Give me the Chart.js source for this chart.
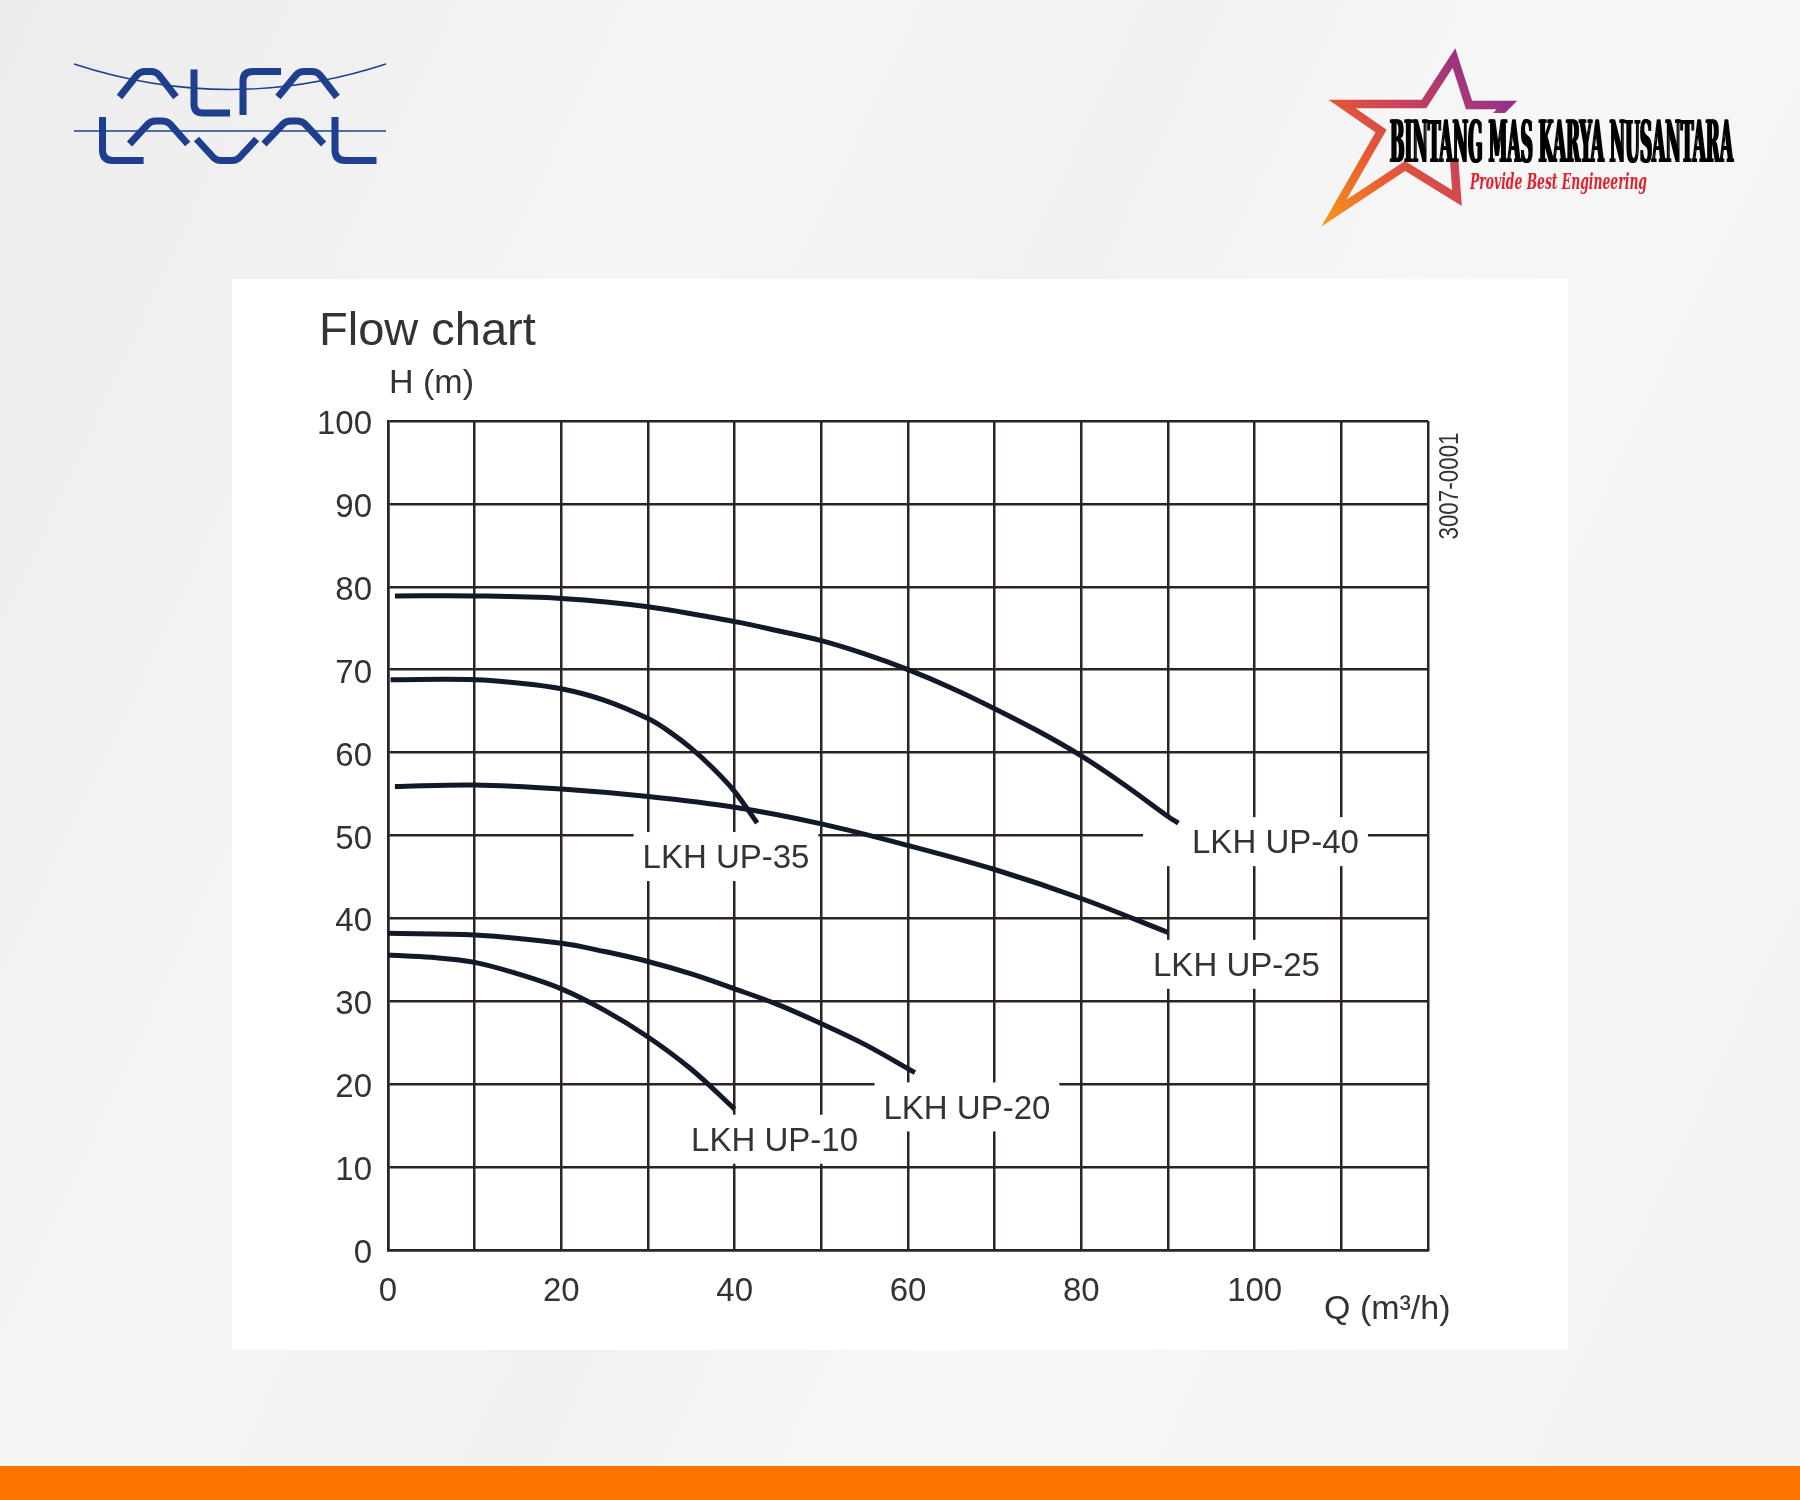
<!DOCTYPE html>
<html>
<head>
<meta charset="utf-8">
<title>Flow chart</title>
<script src="https://cdn.jsdelivr.net/npm/chart.js@4.4.1/dist/chart.umd.min.js"></script>
<style>
  html, body { margin: 0; padding: 0; }
  body {
    width: 1800px; height: 1500px; position: relative; overflow: hidden;
    background: linear-gradient(115deg, #ececec 0%, #f5f5f5 30%, #f1f1f1 48%, #f7f7f7 62%, #f2f2f2 100%);
  }
  #logos { position: absolute; left: 0; top: 0; }
  .brand {
    position: absolute; white-space: nowrap; line-height: 1;
    transform-origin: left top;
  }
  #bmk {
    left: 1390px; top: 108px; font: bold 58px 'DejaVu Serif', serif; color: #000;
    text-shadow: 3px 0 0 #000, -3px 0 0 #000;
  }
  #tag { left: 1470px; top: 167px; font: italic bold 23px 'DejaVu Serif', serif; color: #e3202b; }
  #panel { position: absolute; left: 232px; top: 279px; width: 1336px; height: 1071px; background: #fff; }
  #panel canvas { display: block; }
  #bar { position: absolute; left: 0; top: 1466px; width: 1800px; height: 34px; background: #ff7300; }
</style>
</head>
<body>

<svg id="logos" width="1800" height="260" viewBox="0 0 1800 260">
  <defs>
    <linearGradient id="starGrad" gradientUnits="userSpaceOnUse" x1="1515" y1="50" x2="1325" y2="222">
      <stop offset="0" stop-color="#7a2b9e"/>
      <stop offset="0.45" stop-color="#c6405f"/>
      <stop offset="0.7" stop-color="#e65a33"/>
      <stop offset="1" stop-color="#f7941d"/>
    </linearGradient>
    <mask id="textGap">
      <rect x="1280" y="0" width="520" height="260" fill="#fff"/>
      <rect x="1388" y="113" width="352" height="46" fill="#000"/>
    </mask>
  </defs>
  <!-- Alfa Laval -->
  <g fill="none" stroke="#1d3f8e">
    <path d="M74,64 Q230,115 386,64" stroke-width="1.4"/>
    <path d="M74,131 L386,131" stroke-width="1.4"/>
    <g stroke-width="7">
      <path d="M119.5,97 L137,75 Q140,71.5 145,71.5 L151,71.5 Q156,71.5 159,75 L176,97"/>
      <path d="M194,69.5 L194,104 Q194,113 203,113 L230,113"/>
      <path d="M243,115 L243,81 Q243,71.5 253,71.5 L281,71.5"/>
      <path d="M278,97 L296,75 Q299,71.5 304,71.5 L312,71.5 Q317,71.5 320,75 L337,97"/>
      <path d="M102.5,117 L102.5,150 Q102.5,160.5 113,160.5 L143.6,160.5"/>
      <path d="M129.5,144 L148,124 Q151,121 156,121 L162,121 Q167,121 170,124 L187.7,144"/>
      <path d="M196.5,139 L213,157 Q216,160.5 221,160.5 L232,160.5 Q237,160.5 240,157 L256.6,139"/>
      <path d="M264,144 L283,124 Q286,121 291,121 L297,121 Q302,121 305,124 L323.6,144"/>
      <path d="M335,117 L335,150 Q335,160.5 345.5,160.5 L376.5,160.5"/>
    </g>
  </g>
  <!-- star -->
  <polygon mask="url(#textGap)" fill="none" stroke="url(#starGrad)" stroke-width="8.5" stroke-linejoin="miter" stroke-miterlimit="12"
    points="1454,58 1424,104 1342,104 1381,131 1334,213 1405,166 1457,198 1454,158 1507,105 1469,105"/>
</svg>
<div class="brand" id="bmk">BINTANG MAS KARYA NUSANTARA</div>
<div class="brand" id="tag">Provide Best Engineering</div>

<div id="panel"><canvas id="flowChart" width="1336" height="1071"></canvas></div>
<div id="bar"></div>

<script>
// pump curves: Q (m3/h) and H (m)
const curveNames = ['LKH UP-40', 'LKH UP-35', 'LKH UP-25', 'LKH UP-20', 'LKH UP-10'];
const q40 = [0.8, 10, 20, 30, 40, 45, 50, 55, 60, 65, 70, 75, 80, 85, 90, 91.2];
const h40 = [78.9, 78.9, 78.6, 77.6, 75.8, 74.7, 73.5, 71.9, 70.0, 67.8, 65.3, 62.6, 59.6, 56.1, 52.3, 51.5];
const q35 = [0.3, 10, 15, 20, 25, 30, 32.5, 35, 37.5, 40, 42.6];
const h35 = [68.8, 68.8, 68.4, 67.7, 66.3, 64.1, 62.5, 60.5, 58.1, 55.3, 51.5];
const q25 = [0.8, 10, 20, 30, 40, 50, 60, 70, 80, 90];
const h25 = [55.9, 56.1, 55.6, 54.7, 53.4, 51.4, 48.8, 45.9, 42.4, 38.3];
const q20 = [0, 10, 20, 25, 30, 35, 40, 45, 50, 55, 60.8];
const h20 = [38.2, 38.0, 37.0, 36.0, 34.8, 33.3, 31.5, 29.6, 27.3, 24.8, 21.4];
const q10 = [0, 5, 10, 15, 20, 25, 30, 35, 40];
const h10 = [35.6, 35.3, 34.7, 33.3, 31.5, 28.9, 25.7, 21.8, 17.0];

// where each curve name sits (data units)
const labelQ = [102.4, 39.0, 97.9, 66.8, 44.6];
const labelH = [49.2, 47.4, 34.4, 17.2, 13.3];

const xTickLabels = [0, 20, 40, 60, 80, 100];

const FONT = "'Liberation Sans', Arial, Helvetica, sans-serif";
const GRID = '#2b2325';
const INK = '#333333';
const LINE = '#121a29';

// squeeze the brand texts to the logo width
function fitWidth(id, w) {
    const el = document.getElementById(id);
    el.style.transform = 'scaleX(' + (w / el.getBoundingClientRect().width) + ')';
}
fitWidth('bmk', 343);
fitWidth('tag', 177);

const series = [[q40, h40], [q35, h35], [q25, h25], [q20, h20], [q10, h10]];

const annotate = {
    id: 'annotate',
    beforeDatasetsDraw(chart) {
        const { ctx, scales: { x, y } } = chart;
        ctx.save();
        ctx.font = '33px ' + FONT;
        ctx.textAlign = 'center';
        ctx.textBaseline = 'middle';
        curveNames.forEach((name, i) => {
            const cx = x.getPixelForValue(labelQ[i]);
            const cy = y.getPixelForValue(labelH[i]);
            const w = ctx.measureText(name).width;
            const extra = i === 0 ? 40 : 0;//UP-40 gap is wider on the left
            ctx.fillStyle = '#fff';
            ctx.fillRect(cx - w / 2 - 9 - extra, cy - 25, w + 18 + extra, 49);
            ctx.fillStyle = INK;
            ctx.fillText(name, cx, cy + 2);
        });
        ctx.restore();
    },
    afterDraw(chart) {
        const { ctx, chartArea } = chart;
        ctx.save();
        ctx.fillStyle = INK;
        ctx.textBaseline = 'alphabetic';
        ctx.textAlign = 'left';
        ctx.font = '47px ' + FONT;
        ctx.fillText('Flow chart', 87, 66);
        ctx.font = '34px ' + FONT;
        ctx.fillText('H (m)', chartArea.left + 1, 114);
        ctx.fillText('Q (m³/h)', 1092, 1040);
        // drawing number, rotated
        ctx.translate(chartArea.right + 30, 207);
        ctx.rotate(-Math.PI / 2);
        ctx.scale(0.8, 1);
        ctx.font = '28px ' + FONT;
        ctx.textAlign = 'center';
        ctx.fillText('3007-0001', 0, 0);
        ctx.restore();
    }
};

new Chart(document.getElementById('flowChart'), {
    type: 'line',
    data: {
        datasets: series.map((s, i) => ({
            label: curveNames[i],
            data: s[0].map((q, k) => ({ x: q, y: s[1][k] })),
            borderColor: LINE,
            borderWidth: 5,
            pointRadius: 0,
            fill: false,
            tension: 0.35
        }))
    },
    options: {
        responsive: false,
        animation: false,
        devicePixelRatio: 1,
        layout: { padding: { left: 0, top: 142, right: 140, bottom: 0 } },
        scales: {
            x: {
                type: 'linear', min: 0, max: 120,
                afterFit: s => { s.height = 100; },
                ticks: {
                    stepSize: 10, autoSkip: false, maxRotation: 0, padding: 22,
                    color: INK, font: { family: FONT, size: 33 },
                    callback: v => xTickLabels.includes(v) ? String(v) : ''
                },
                grid: { color: GRID, lineWidth: 2.5, drawTicks: false },
                border: { color: GRID, width: 2.5 }
            },
            y: {
                min: 0, max: 100,
                afterFit: s => { s.width = 156; },
                ticks: {
                    stepSize: 10, padding: 16, labelOffset: 4,
                    color: INK, font: { family: FONT, size: 33 }
                },
                grid: { color: GRID, lineWidth: 2.5, drawTicks: false },
                border: { color: GRID, width: 2.5 }
            }
        },
        plugins: {
            legend: { display: false },
            tooltip: { enabled: false }
        }
    },
    plugins: [annotate]
});
</script>
</body>
</html>
